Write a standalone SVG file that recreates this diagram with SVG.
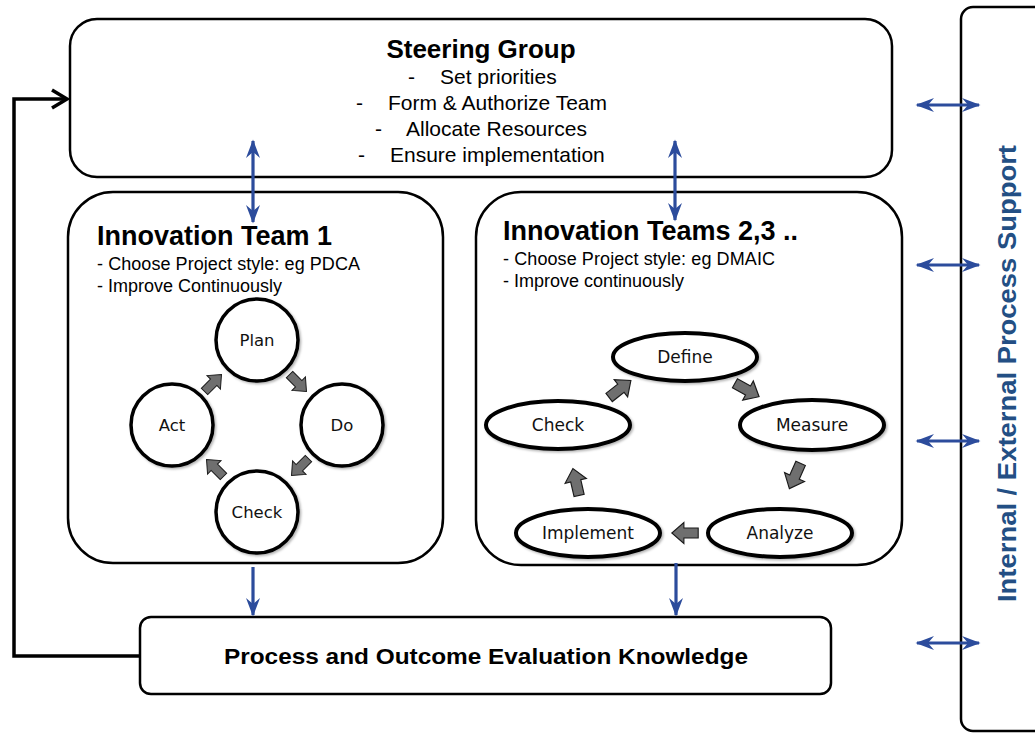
<svg xmlns="http://www.w3.org/2000/svg" width="1035" height="733" viewBox="0 0 1035 733">
  <style>
    .box { fill: #ffffff; stroke: #000000; stroke-width: 2.5; }
    .stage { fill: #ffffff; stroke: #000000; stroke-width: 3.5; filter: url(#soft); }
    .oval { fill: #ffffff; stroke: #000000; stroke-width: 4; filter: url(#soft); }
    .sans { font-family: "Liberation Sans", Arial, sans-serif; fill: #000000; }
    .stageText { font-family: "DejaVu Sans", Verdana, sans-serif; fill: #111111; text-anchor: middle; }
    .blue { stroke: #2c4c9c; stroke-width: 3.2; fill: none; }
    .flow { fill: #6f6f6f; stroke: #1a1a1a; stroke-width: 1; }
  </style>
  <defs>
    <filter id="soft" x="-20%" y="-20%" width="140%" height="140%">
      <feDropShadow dx="1.5" dy="1.5" stdDeviation="1.2" flood-color="#000000" flood-opacity="0.3"/>
    </filter>
    <marker id="tip" markerUnits="userSpaceOnUse" markerWidth="22" markerHeight="16" viewBox="-18 -8 20 16" refX="0" refY="0" orient="auto-start-reverse">
      <path d="M1.5,0 L-17,-7 L-11,0 L-17,7 Z" fill="#2c4c9c"/>
    </marker>
    <path id="block" d="M-12,-4.5 L1,-4.5 L1,-9.5 L12,0 L1,9.5 L1,4.5 L-12,4.5 Z"/>
  </defs>

  <rect width="1035" height="733" fill="#ffffff"/>

  <!-- support column on the right -->
  <g id="support">
    <rect x="961" y="7" width="200" height="724" rx="12" class="box"/>
    <text transform="translate(1016,373.5) rotate(-90)" text-anchor="middle" font-family="Liberation Sans, Arial, sans-serif" font-weight="bold" font-size="25" fill="#234f84" textLength="457" lengthAdjust="spacingAndGlyphs">Internal / External Process Support</text>
  </g>

  <!-- steering group -->
  <g id="steering">
    <rect x="70" y="19" width="822" height="158" rx="27" class="box"/>
    <text x="481" y="58" class="sans" font-size="26" font-weight="bold" text-anchor="middle">Steering Group</text>
    <g class="sans" font-size="21">
      <text x="408" y="84">-</text><text x="440" y="84">Set priorities</text>
      <text x="356" y="110">-</text><text x="388" y="110">Form &amp; Authorize Team</text>
      <text x="375" y="136">-</text><text x="406" y="136">Allocate Resources</text>
      <text x="358" y="162">-</text><text x="390" y="162">Ensure implementation</text>
    </g>
  </g>

  <!-- innovation team 1 (PDCA) -->
  <g id="team1">
    <rect x="68" y="192" width="375" height="371" rx="45" class="box"/>
    <text x="97" y="245" class="sans" font-size="27" font-weight="bold">Innovation Team 1</text>
    <text x="97" y="270" class="sans" font-size="18" textLength="263">- Choose Project style: eg PDCA</text>
    <text x="97" y="292" class="sans" font-size="18">- Improve Continuously</text>
  </g>
  <g id="plan"><circle cx="257" cy="340" r="41" class="stage"/><text x="257" y="346" class="stageText" font-size="16.5">Plan</text></g>
  <g id="do"><circle cx="342" cy="425" r="41" class="stage"/><text x="342" y="431" class="stageText" font-size="16.5">Do</text></g>
  <g id="check1"><circle cx="257" cy="512" r="41" class="stage"/><text x="257" y="518" class="stageText" font-size="16.5">Check</text></g>
  <g id="act"><circle cx="172" cy="425" r="41" class="stage"/><text x="172" y="431" class="stageText" font-size="16.5">Act</text></g>

  <!-- innovation teams 2,3 (DMAIC) -->
  <g id="team2">
    <rect x="476" y="192" width="426" height="373" rx="45" class="box"/>
    <text x="503" y="240" class="sans" font-size="27" font-weight="bold">Innovation Teams 2,3 ..</text>
    <text x="503" y="265" class="sans" font-size="18" textLength="272">- Choose Project style: eg DMAIC</text>
    <text x="503" y="287" class="sans" font-size="18">- Improve continuously</text>
  </g>
  <g id="define"><ellipse cx="685" cy="357" rx="72" ry="24" class="oval"/><text x="685" y="363" class="stageText" font-size="17">Define</text></g>
  <g id="measure"><ellipse cx="812" cy="425" rx="72" ry="25" class="oval"/><text x="812" y="431" class="stageText" font-size="17">Measure</text></g>
  <g id="analyze"><ellipse cx="780" cy="533" rx="72" ry="24" class="oval"/><text x="780" y="539" class="stageText" font-size="17">Analyze</text></g>
  <g id="implement"><ellipse cx="588" cy="533" rx="72" ry="24" class="oval"/><text x="588" y="539" class="stageText" font-size="17">Implement</text></g>
  <g id="check2"><ellipse cx="558" cy="425" rx="72" ry="24" class="oval"/><text x="558" y="431" class="stageText" font-size="17">Check</text></g>

  <!-- evaluation knowledge -->
  <g id="evaluation">
    <rect x="140" y="617" width="691" height="77" rx="11" class="box"/>
    <text x="486" y="664" class="sans" font-size="21.5" font-weight="bold" text-anchor="middle" textLength="524" lengthAdjust="spacingAndGlyphs">Process and Outcome Evaluation Knowledge</text>
  </g>

  <!-- connectors -->
  <g id="connectors">
    <!-- cycle arrows, PDCA -->
    <use href="#block" class="flow" transform="translate(298,383) rotate(45)"/>
    <use href="#block" class="flow" transform="translate(300,467) rotate(135)"/>
    <use href="#block" class="flow" transform="translate(215,468) rotate(-135)"/>
    <use href="#block" class="flow" transform="translate(213,383) rotate(-45)"/>
    <!-- cycle arrows, DMAIC -->
    <use href="#block" class="flow" transform="translate(747,390) rotate(29) scale(1.15)"/>
    <use href="#block" class="flow" transform="translate(795,476) rotate(114) scale(1.15)"/>
    <use href="#block" class="flow" transform="translate(685,533) rotate(180) scale(1.1)"/>
    <use href="#block" class="flow" transform="translate(576,482) rotate(-103) scale(1.15)"/>
    <use href="#block" class="flow" transform="translate(620,389) rotate(-38) scale(1.15)"/>

    <!-- steering group to teams -->
    <line x1="253" y1="141" x2="253" y2="222" class="blue" marker-start="url(#tip)" marker-end="url(#tip)"/>
    <line x1="675" y1="141" x2="675" y2="220" class="blue" marker-start="url(#tip)" marker-end="url(#tip)"/>
    <!-- teams to evaluation -->
    <line x1="253" y1="567" x2="253" y2="615" class="blue" marker-end="url(#tip)"/>
    <line x1="676" y1="563" x2="676" y2="615" class="blue" marker-end="url(#tip)"/>
    <!-- process support links -->
    <line x1="917" y1="105" x2="979" y2="105" class="blue" marker-start="url(#tip)" marker-end="url(#tip)"/>
    <line x1="917" y1="265" x2="979" y2="265" class="blue" marker-start="url(#tip)" marker-end="url(#tip)"/>
    <line x1="917" y1="441" x2="979" y2="441" class="blue" marker-start="url(#tip)" marker-end="url(#tip)"/>
    <line x1="917" y1="643" x2="979" y2="643" class="blue" marker-start="url(#tip)" marker-end="url(#tip)"/>

    <!-- feedback loop from evaluation back to steering group -->
    <path d="M140,656 L14,656 L14,99 L66,99" fill="none" stroke="#000000" stroke-width="3.5"/>
    <path d="M52,90 L67,99 L52,108" fill="none" stroke="#000000" stroke-width="3.5" stroke-linejoin="miter"/>
  </g>
</svg>
